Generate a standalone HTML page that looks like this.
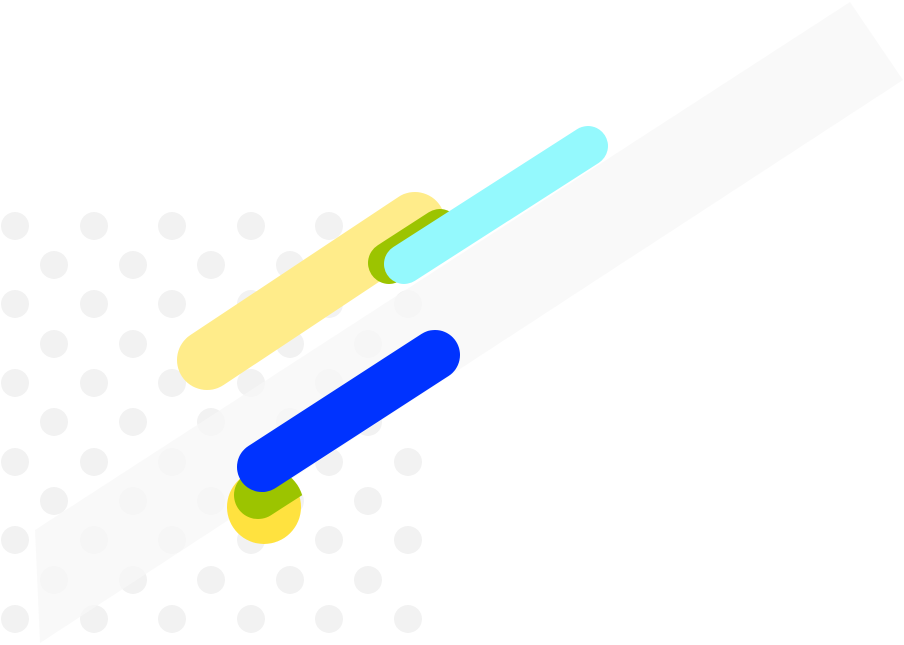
<!DOCTYPE html>
<html><head><style>html,body{margin:0;padding:0;background:#fff;}svg{display:block}</style></head>
<body>
<svg width="904" height="645" viewBox="0 0 904 645" xmlns="http://www.w3.org/2000/svg">
<defs>
<g id="e">
<circle cx="15" cy="0" r="14"/><circle cx="94" cy="0" r="14"/><circle cx="172" cy="0" r="14"/><circle cx="251" cy="0" r="14"/><circle cx="329" cy="0" r="14"/><circle cx="408" cy="0" r="14"/>
</g>
<g id="o">
<circle cx="54" cy="0" r="14"/><circle cx="133" cy="0" r="14"/><circle cx="211" cy="0" r="14"/><circle cx="290" cy="0" r="14"/><circle cx="368" cy="0" r="14"/>
</g>
<clipPath id="c"><circle cx="264" cy="507" r="40"/><rect x="200" y="440" width="60" height="60"/></clipPath>
</defs>
<g fill="#f2f2f2">
<circle cx="15" cy="226" r="14"/><circle cx="94" cy="226" r="14"/><circle cx="172" cy="226" r="14"/><circle cx="251" cy="226" r="14"/><circle cx="329" cy="226" r="14"/>
<use href="#o" y="265"/>
<use href="#e" y="304"/>
<use href="#o" y="344"/>
<use href="#e" y="383"/>
<use href="#o" y="422"/>
<use href="#e" y="462"/>
<use href="#o" y="501"/>
<use href="#e" y="540"/>
<use href="#o" y="580"/>
<use href="#e" y="619"/>
</g>
<polygon points="35,530 850,2 903,80 40,643" fill="#f7f7f7" fill-opacity="0.75"/>
<line x1="207" y1="360" x2="415" y2="222" stroke="#ffec8a" stroke-width="60" stroke-linecap="round"/>
<line x1="389" y1="263" x2="440" y2="230" stroke="#9cc400" stroke-width="42" stroke-linecap="round"/>
<line x1="404" y1="264" x2="588" y2="146" stroke="#94f9fd" stroke-width="40" stroke-linecap="round"/>
<circle cx="264" cy="507" r="37" fill="#ffe23f"/>
<line x1="258" y1="495" x2="300" y2="468" stroke="#9cc400" stroke-width="48" stroke-linecap="round" clip-path="url(#c)"/>
<line x1="262" y1="467" x2="435" y2="355" stroke="#0033ff" stroke-width="50" stroke-linecap="round"/>
</svg>
</body></html>
